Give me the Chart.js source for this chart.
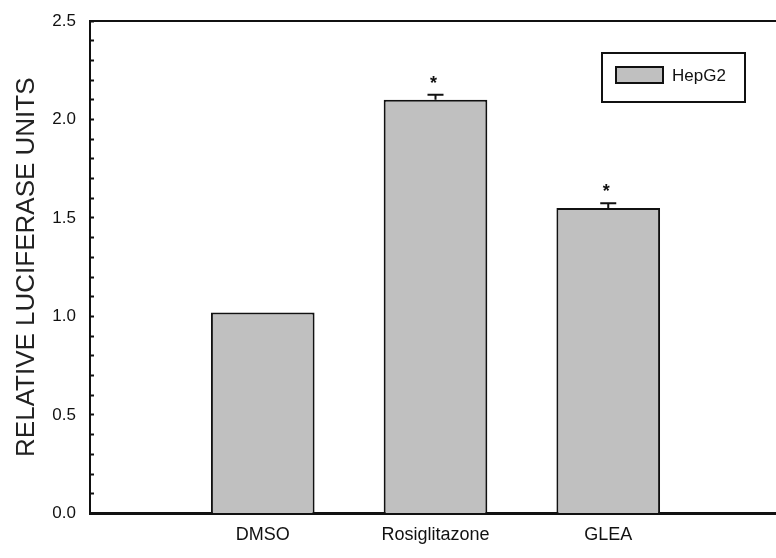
<!DOCTYPE html>
<html>
<head>
<meta charset="utf-8">
<script src="https://cdn.jsdelivr.net/npm/chart.js@4/dist/chart.umd.min.js"></script>
<style>
    html, body { margin: 0; padding: 0; background: #fff; overflow: hidden; }
    #wrap { width: 776px; height: 558px; overflow: hidden; }
</style>
</head>
<body>
<div id="wrap"><canvas id="chart" width="792" height="558"></canvas></div>
<script>
const categories = ['DMSO', 'Rosiglitazone', 'GLEA'];
const luciferaseValues = [1.02, 2.10, 1.55];
const errorValues = [0, 0.025, 0.025];
const significant = [false, true, true];
const seriesLabel = 'HepG2';
const yMin = 0;
const yMax = 2.5;
const majorStep = 0.5;
const minorStep = 0.1;

const BAR_FILL = '#c0c0c0';
const INK = '#111';

// empty slots on each side so the bars sit at 1/4, 2/4, 3/4 of the axis
const axisLabels = ['', ...categories, ''];
const axisValues = [null, ...luciferaseValues, null];
const axisErrors = [null, ...errorValues, null];
const axisStars = [false, ...significant, false];

function isMajor(value) {
    const ratio = value / majorStep;
    return Math.abs(ratio - Math.round(ratio)) < 1e-6;
}

const decorations = {
    id: 'decorations',
    afterDatasetsDraw(chart) {
        const ctx = chart.ctx;
        const area = chart.chartArea;
        const yScale = chart.scales.y;
        const meta = chart.getDatasetMeta(0);

        ctx.save();
        // top frame line
        ctx.strokeStyle = INK;
        ctx.lineWidth = 2;
        ctx.beginPath();
        ctx.moveTo(area.left - 1, area.top);
        ctx.lineTo(area.right, area.top);
        ctx.stroke();

        // error bars and significance marks
        meta.data.forEach((bar, i) => {
            const value = axisValues[i];
            if (value === null) {
                return;
            }
            const err = axisErrors[i] || 0;
            const topY = yScale.getPixelForValue(value + err);
            if (err > 0) {
                ctx.beginPath();
                ctx.moveTo(bar.x, yScale.getPixelForValue(value));
                ctx.lineTo(bar.x, topY);
                ctx.moveTo(bar.x - 8, topY);
                ctx.lineTo(bar.x + 8, topY);
                ctx.stroke();
            }
            if (axisStars[i]) {
                ctx.fillStyle = INK;
                ctx.font = 'bold 18px "Liberation Sans", Arial, sans-serif';
                ctx.textAlign = 'center';
                ctx.textBaseline = 'alphabetic';
                ctx.fillText('*', bar.x - 2, topY - 6);
            }
        });

        // boxed legend
        const box = { x: 602, y: 53, w: 143, h: 49 };
        ctx.lineWidth = 2;
        ctx.strokeStyle = INK;
        ctx.fillStyle = '#fff';
        ctx.fillRect(box.x, box.y, box.w, box.h);
        ctx.strokeRect(box.x, box.y, box.w, box.h);
        ctx.fillStyle = BAR_FILL;
        ctx.fillRect(616, 67, 47, 16);
        ctx.strokeRect(616, 67, 47, 16);
        ctx.fillStyle = INK;
        ctx.font = '17px "Liberation Sans", Arial, sans-serif';
        ctx.textAlign = 'left';
        ctx.textBaseline = 'middle';
        ctx.fillText(chart.data.datasets[0].label, 672, 76);
        ctx.restore();
    }
};

new Chart(document.getElementById('chart'), {
    type: 'bar',
    data: {
        labels: axisLabels,
        datasets: [
            {
                label: seriesLabel,
                data: axisValues,
                backgroundColor: BAR_FILL,
                borderColor: INK,
                borderWidth: 2,
                barPercentage: 0.6,
                categoryPercentage: 1
            }
        ]
    },
    options: {
        responsive: false,
        animation: false,
        devicePixelRatio: 1,
        layout: {
            padding: { left: 0, right: 10, top: 21, bottom: 1 }
        },
        plugins: {
            legend: { display: false },
            tooltip: { enabled: false }
        },
        scales: {
            x: {
                offset: false,
                grid: { display: false, drawTicks: false },
                border: { display: true, color: INK, width: 3 },
                ticks: {
                    color: INK,
                    padding: 11,
                    autoSkip: false,
                    maxRotation: 0,
                    font: { family: '"Liberation Sans", Arial, sans-serif', size: 18 }
                }
            },
            y: {
                min: yMin,
                max: yMax,
                afterFit: (scale) => {
                    scale.width = 90;
                    scale.paddingTop = 0;
                    scale.paddingBottom = 0;
                },
                grid: {
                    drawOnChartArea: false,
                    drawTicks: true,
                    tickLength: -4,
                    tickColor: INK,
                    tickWidth: 2
                },
                border: { display: true, color: INK, width: 2 },
                ticks: {
                    stepSize: minorStep,
                    autoSkip: false,
                    color: INK,
                    padding: 18,
                    font: { family: '"Liberation Sans", Arial, sans-serif', size: 17, lineHeight: 1 },
                    callback: (value) => (isMajor(value) ? value.toFixed(1) : '')
                },
                title: {
                    display: true,
                    text: 'RELATIVE LUCIFERASE UNITS',
                    color: '#222',
                    padding: { top: 11, bottom: 0 },
                    font: { family: '"Liberation Sans", Arial, sans-serif', size: 26 }
                }
            }
        }
    },
    plugins: [decorations]
});
</script>
</body>
</html>
